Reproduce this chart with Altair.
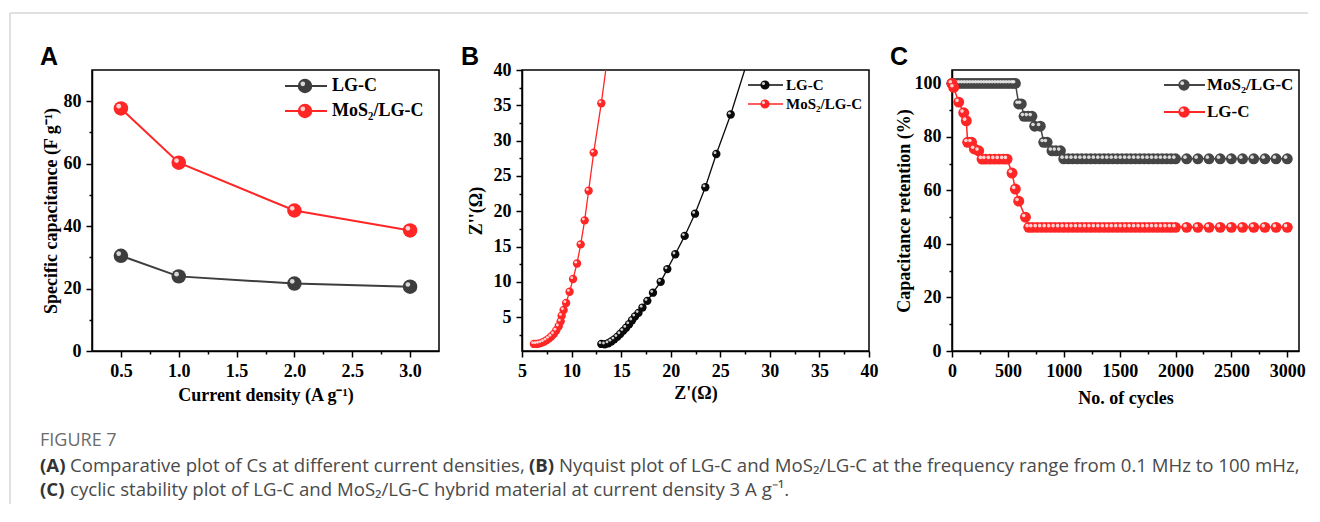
import altair as alt
import pandas as pd

# ---------------- Panel A : specific capacitance ----------------
a_density = [0.5, 1.0, 2.0, 3.0]
a_lgc = [30.5, 23.9, 21.6, 20.6]
a_mos2 = [77.7, 60.3, 45.0, 38.6]

# ---------------- Panel B : Nyquist plot ----------------
b_lgc_x = [13.0, 13.35, 13.7, 14.0, 14.3, 14.6, 14.9, 15.2, 15.5, 15.8, 16.1, 16.4,
           16.75, 17.15, 17.64, 18.21, 18.99, 19.66, 20.46, 21.41, 22.45, 23.49, 24.6, 26.05]
b_lgc_y = [1.2, 1.15, 1.3, 1.55, 1.85, 2.2, 2.6, 3.05, 3.5, 4.0, 4.55, 5.1,
           5.6, 6.35, 7.3, 8.46, 10.0, 11.8, 13.9, 16.5, 19.65, 23.4, 28.1, 33.7]
b_lgc_line_end = [27.46, 40.0]
b_mos2_x = [6.2, 6.45, 6.7, 6.95, 7.2, 7.45, 7.7, 7.95, 8.2, 8.45, 8.7, 8.9,
            9.0, 9.2, 9.45, 9.8, 10.15, 10.55, 10.92, 11.32, 11.72, 12.23, 13.0]
b_mos2_y = [1.2, 1.2, 1.25, 1.35, 1.5, 1.7, 1.95, 2.25, 2.6, 3.1, 3.7, 4.4,
            5.2, 6.0, 7.0, 8.6, 10.4, 12.6, 15.3, 18.7, 22.9, 28.3, 35.3]
b_mos2_line_end = [13.45, 40.0]

# ---------------- Panel C : cycling stability ----------------
c_mos2_cycles = [0, 25, 50, 75, 100, 125, 150, 175, 200, 225, 250, 275, 300, 325, 350, 375,
                 400, 425, 450, 475, 500, 525, 550, 567, 597, 620, 645, 680, 715, 740, 790,
                 821, 851, 895, 930, 970, 1000, 1040, 1080, 1120, 1160, 1200, 1240, 1280,
                 1320, 1360, 1400, 1440, 1480, 1520, 1560, 1600, 1640, 1680, 1720, 1760,
                 1800, 1840, 1880, 1920, 1960, 2000, 2100, 2200, 2300, 2400, 2500, 2600,
                 2700, 2800, 2900, 3000]
c_mos2_ret = [100, 100, 100, 100, 100, 100, 100, 100, 100, 100, 100, 100, 100, 100, 100, 100,
              100, 100, 100, 100, 100, 100, 100, 100, 92.3, 92.3, 87.7, 87.7, 87.7, 84.0, 84.0,
              78.0, 78.0, 74.8, 74.8, 74.8, 71.8, 71.8, 71.8, 71.8, 71.8, 71.8, 71.8, 71.8,
              71.8, 71.8, 71.8, 71.8, 71.8, 71.8, 71.8, 71.8, 71.8, 71.8, 71.8, 71.8,
              71.8, 71.8, 71.8, 71.8, 71.8, 71.8, 71.8, 71.8, 71.8, 71.8, 71.8, 71.8,
              71.8, 71.8, 71.8, 71.8]
c_lgc_cycles = [0, 15, 60, 105, 128, 140, 175, 200, 239, 269, 300, 340, 380, 420, 460, 493,
                537, 567, 597, 657, 687, 720, 760, 800, 840, 880, 920, 960, 1000, 1040, 1080,
                1120, 1160, 1200, 1240, 1280, 1320, 1360, 1400, 1440, 1480, 1520, 1560, 1600,
                1640, 1680, 1720, 1760, 1800, 1840, 1880, 1920, 1960, 2000, 2100, 2200, 2300,
                2400, 2500, 2600, 2700, 2800, 2900, 3000]
c_lgc_ret = [100, 98.5, 93.0, 89.0, 86.0, 78.0, 78.0, 75.5, 74.8, 71.7, 71.7, 71.7, 71.7, 71.7,
             71.7, 71.7, 66.5, 60.5, 56.0, 50.0, 46.2, 46.2, 46.2, 46.2, 46.2, 46.2, 46.2, 46.2,
             46.2, 46.2, 46.2, 46.2, 46.2, 46.2, 46.2, 46.2, 46.2, 46.2, 46.2, 46.2, 46.2, 46.2,
             46.2, 46.2, 46.2, 46.2, 46.2, 46.2, 46.2, 46.2, 46.2, 46.2, 46.2, 46.2, 46.2, 46.2,
             46.2, 46.2, 46.2, 46.2, 46.2, 46.2, 46.2, 46.2]

# ---------------- Labels ----------------
panel_letters = ["A", "B", "C"]
legend_a = ["LG-C", "MoS\u2082/LG-C"]
legend_b = ["LG-C", "MoS\u2082/LG-C"]
legend_c = ["MoS\u2082/LG-C", "LG-C"]
caption_head = "FIGURE 7"
caption_parts = [
    "(A)", "Comparative plot of Cs at different current densities,",
    "(B)", "Nyquist plot of LG-C and MoS\u2082/LG-C at the frequency range from 0.1 MHz to 100 mHz,",
    "(C)", "cyclic stability plot of LG-C and MoS\u2082/LG-C hybrid material at current density 3 A g\u207b\u00b9.",
]

SERIF = "Liberation Serif"
SANS = "Liberation Sans"
CAPF = "Open Sans"
CAP_FS = 18.6
RED = "#ff2626"
GRAY = "#3d3d3d"
BLACK = "#0a0a0a"
W, H = 347, 281


def minor_axis(values, major_test, fmt, title, label_pad=5, title_pad=6):
    return alt.Axis(
        values=values,
        title=title,
        labelExpr=f"({major_test}) ? format(datum.value, '{fmt}') : ''",
        tickSize={"condition": {"test": f"!({major_test})", "value": 3}, "value": 6},
        labelPadding=label_pad,
        titlePadding=title_pad,
    )


def series_layers(base, col, size, hl, off, lw, pt_filter=None):
    pb = base if pt_filter is None else base.transform_filter(pt_filter)
    return [
        base.mark_line(color=col, strokeWidth=lw),
        pb.mark_point(filled=True, size=size, color=col, opacity=1),
        pb.mark_point(filled=True, size=hl, color="white", opacity=0.8, xOffset=-off, yOffset=-off),
    ]


def legend_layers(labels, colors, x1, x2, xm, xt, ys, size, hl, off, fs, lw):
    out = []
    for lab, col, y in zip(labels, colors, ys):
        d = alt.Chart(pd.DataFrame({"t": [lab]}))
        out.append(d.mark_rule(color=col, strokeWidth=lw).encode(
            x=alt.value(x1), x2=alt.value(x2), y=alt.value(y)))
        out.append(d.mark_point(filled=True, size=size, color=col, opacity=1).encode(
            x=alt.value(xm), y=alt.value(y)))
        out.append(d.mark_point(filled=True, size=hl, color="white", opacity=0.8,
                                xOffset=-off, yOffset=-off).encode(x=alt.value(xm), y=alt.value(y)))
        out.append(d.mark_text(align="left", baseline="middle", font=SERIF, fontWeight="bold",
                               fontSize=fs, color="black").encode(
            x=alt.value(xt), y=alt.value(y), text="t:N"))
    return out


def letter(ch, x):
    return alt.Chart(pd.DataFrame({"t": [ch]})).mark_text(
        align="left", baseline="alphabetic", font=SANS, fontWeight="bold", fontSize=25, color="black"
    ).encode(x=alt.value(x), y=alt.value(-5), text="t:N")


def text_at(s, x, y, fs, weight, color, align="left", font=CAPF):
    return alt.Chart(pd.DataFrame({"t": [s]})).mark_text(
        align=align, baseline="middle", font=font, fontWeight=weight, fontSize=fs, color=color
    ).encode(x=alt.value(x), y=alt.value(y), text="t:N")


# ---------------- Panel A ----------------
dfA = pd.DataFrame({
    "x": a_density + a_density,
    "y": a_lgc + a_mos2,
    "s": ["LG-C"] * len(a_density) + ["MoS2"] * len(a_density),
})
xA = alt.X("x:Q", scale=alt.Scale(domain=[0.25, 3.25], nice=False, zero=False),
           axis=minor_axis([0.5, 0.75, 1.0, 1.25, 1.5, 1.75, 2.0, 2.25, 2.5, 2.75, 3.0],
                           "(datum.value * 2) % 1 == 0", ".1f", "Current density (A g\u207b\u00b9)",
                           title_pad=6))
yA = alt.Y("y:Q", scale=alt.Scale(domain=[0, 90], nice=False),
           axis=minor_axis([0, 10, 20, 30, 40, 50, 60, 70, 80], "datum.value % 20 == 0", "d",
                           "Specific capacitance (F g\u207b\u00b9)", title_pad=3))
baseA = alt.Chart(dfA).encode(x=xA, y=yA)
layersA = []
layersA += series_layers(baseA.transform_filter(alt.datum.s == "LG-C"), GRAY, 210, 22, 2.2, 2)
layersA += series_layers(baseA.transform_filter(alt.datum.s == "MoS2"), RED, 210, 22, 2.2, 2)
layersA += legend_layers(legend_a, [GRAY, RED], 193, 235, 213, 240, [16, 41], 210, 22, 2.2, 18, 2)
layersA.append(letter(panel_letters[0], -52))
# figure card border and caption
dummy = pd.DataFrame({"t": [""]})
layersA.append(alt.Chart(dummy).mark_rule(color="#d6d6d6", strokeWidth=1.5).encode(
    x=alt.value(-82), x2=alt.value(1216), y=alt.value(-57)))
layersA.append(alt.Chart(dummy).mark_rule(color="#d6d6d6", strokeWidth=1.5).encode(
    x=alt.value(-82), y=alt.value(-57), y2=alt.value(434)))
layersA.append(text_at(caption_head, -52, 371, 18, "normal", "#6b6b6b"))
layersA.append(text_at(caption_parts[0], -52, 396, CAP_FS, "bold", "#333333"))
layersA.append(text_at(caption_parts[1], -22, 396, CAP_FS, "normal", "#4a4a4a"))
layersA.append(text_at(caption_parts[2], 437, 396, CAP_FS, "bold", "#333333"))
layersA.append(text_at(caption_parts[3], 467, 396, CAP_FS, "normal", "#4a4a4a"))
layersA.append(text_at(caption_parts[4], -52, 420, CAP_FS, "bold", "#333333"))
layersA.append(text_at(caption_parts[5], -22, 420, CAP_FS, "normal", "#4a4a4a"))
chartA = alt.layer(*layersA).properties(width=W, height=H)

# ---------------- Panel B ----------------
dfB = pd.DataFrame({
    "x": b_lgc_x + [b_lgc_line_end[0]] + b_mos2_x + [b_mos2_line_end[0]],
    "y": b_lgc_y + [b_lgc_line_end[1]] + b_mos2_y + [b_mos2_line_end[1]],
    "s": ["LG-C"] * (len(b_lgc_x) + 1) + ["MoS2"] * (len(b_mos2_x) + 1),
    "pt": [1] * len(b_lgc_x) + [0] + [1] * len(b_mos2_x) + [0],
    "i": list(range(len(b_lgc_x) + 1)) + list(range(len(b_mos2_x) + 1)),
})
xB = alt.X("x:Q", scale=alt.Scale(domain=[5, 40], nice=False, zero=False),
           axis=minor_axis([5, 7.5, 10, 12.5, 15, 17.5, 20, 22.5, 25, 27.5, 30, 32.5, 35, 37.5, 40],
                           "datum.value % 5 == 0", "d", "Z'(\u03a9)", title_pad=4))
yB = alt.Y("y:Q", scale=alt.Scale(domain=[0.2, 40], nice=False, zero=False),
           axis=minor_axis([2.5, 5, 7.5, 10, 12.5, 15, 17.5, 20, 22.5, 25, 27.5, 30, 32.5, 35, 37.5, 40],
                           "datum.value % 5 == 0", "d", "Z''(\u03a9)", title_pad=8))
baseB = alt.Chart(dfB).encode(x=xB, y=yB, order="i:Q")
layersB = []
layersB += series_layers(baseB.transform_filter(alt.datum.s == "LG-C"), BLACK, 70, 8, 1.3, 1.3,
                         pt_filter="datum.pt == 1")
layersB += series_layers(baseB.transform_filter(alt.datum.s == "MoS2"), RED, 70, 8, 1.3, 1.3,
                         pt_filter="datum.pt == 1")
layersB += legend_layers(legend_b, [BLACK, RED], 226, 261, 243, 264, [15, 34], 85, 10, 1.5, 15, 1.3)
layersB.append(letter(panel_letters[1], -61))
chartB = alt.layer(*layersB).properties(width=W, height=H)

# ---------------- Panel C ----------------
dfC = pd.DataFrame({
    "x": c_mos2_cycles + c_lgc_cycles,
    "y": c_mos2_ret + c_lgc_ret,
    "s": ["MoS2"] * len(c_mos2_cycles) + ["LG-C"] * len(c_lgc_cycles),
})
xC = alt.X("x:Q", scale=alt.Scale(domain=[0, 3105], nice=False, zero=False),
           axis=minor_axis([0, 250, 500, 750, 1000, 1250, 1500, 1750, 2000, 2250, 2500, 2750, 3000],
                           "datum.value % 500 == 0", "d", "No. of cycles", title_pad=9))
yC = alt.Y("y:Q", scale=alt.Scale(domain=[0, 105], nice=False),
           axis=minor_axis([0, 10, 20, 30, 40, 50, 60, 70, 80, 90, 100], "datum.value % 20 == 0", "d",
                           "Capacitance retention (%)", title_pad=1))
baseC = alt.Chart(dfC).encode(x=xC, y=yC)
layersC = []
layersC += series_layers(baseC.transform_filter(alt.datum.s == "MoS2"), "#454545", 120, 13, 1.7, 1.5)
layersC += series_layers(baseC.transform_filter(alt.datum.s == "LG-C"), RED, 120, 13, 1.7, 1.5)
layersC += legend_layers(legend_c, ["#454545", RED], 212, 253, 232, 255, [15, 42], 130, 14, 1.8, 17, 2)
layersC.append(letter(panel_letters[2], -62))
chartC = alt.layer(*layersC).properties(width=W, height=H)

chart = alt.hconcat(chartA, chartB, chartC, spacing=83, bounds="flush").properties(
    padding={"left": 0, "top": 3, "right": 0, "bottom": 0}
).configure_view(
    stroke="black", strokeWidth=1.5
).configure_axis(
    domainColor="black", domainWidth=1.5, tickColor="black", tickWidth=1.5,
    labelColor="black", titleColor="black",
    labelFont=SERIF, titleFont=SERIF, labelFontWeight="bold", titleFontWeight="bold",
    labelFontSize=18, titleFontSize=18, grid=False, labelOverlap=False, labelFlush=False,
)

chart.save("out.html", embed_options={"renderer": "svg", "actions": False})
